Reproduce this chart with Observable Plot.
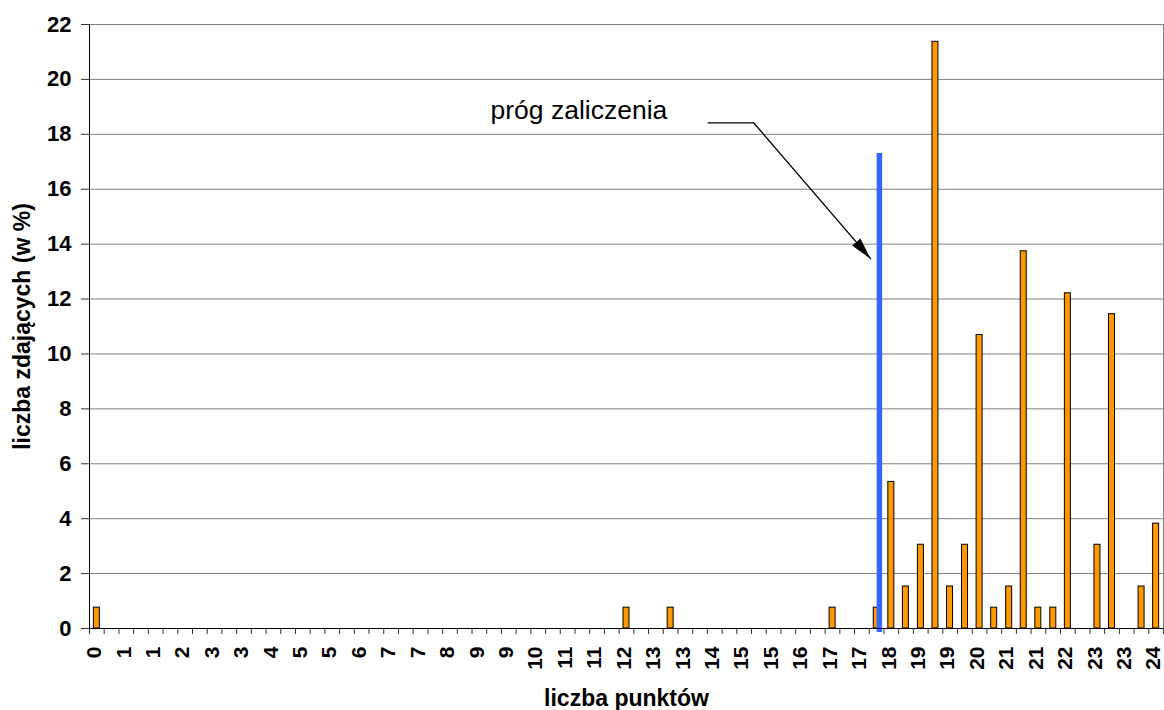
<!DOCTYPE html>
<html><head><meta charset="utf-8">
<script src="https://cdn.jsdelivr.net/npm/d3@7"></script>
<script src="https://cdn.jsdelivr.net/npm/@observablehq/plot@0.6"></script>
<style>
html,body{margin:0;padding:0;background:#fff;}
#chart svg{display:block;font-family:"Liberation Sans",Arial,sans-serif;color:#000;}
</style></head><body><div id="chart"></div>
<script>
// liczba punktów (categories in steps of 1/3 point)
const points  = [0, 12, 13, 16.67, 17.67, 18, 18.33, 18.67, 19, 19.33, 19.67, 20, 20.33, 20.67, 21, 21.33, 21.67, 22, 22.67, 23, 23.67, 24];
// liczba zdających (w %)
const percent = [0.76, 0.76, 0.76, 0.76, 0.76, 5.34, 1.53, 3.05, 21.37, 1.53, 3.05, 10.69, 0.76, 1.53, 13.74, 0.76, 0.76, 12.21, 3.05, 11.45, 1.53, 3.82];
const yTicks = [0, 2, 4, 6, 8, 10, 12, 14, 16, 18, 20, 22];
const xTickLabels = ["0","1","1","2","3","3","4","5","5","6","7","7","8","9","9","10","11","11","12","13","13","14","15","15","16","17","17","18","19","19","20","21","21","22","23","23","24"];
const xTitle = "liczba punktów";
const yTitle = "liczba zdających (w %)";
// próg zaliczenia (threshold line) and annotation
const threshold = 17.73;
const thresholdBottom = -0.15;
const thresholdTop = 17.3;
const annotationText = "próg zaliczenia";
const annotationX = 8.92;
const annotationY = 18.85;
const arrowX = [13.85, 14.88, 17.53];
const arrowY = [18.42, 18.42, 13.47];

const data = points.map((p, i) => ({p, v: percent[i]}));
const labelPos = xTickLabels.map((_, i) => i * 2 / 3);
const boundaries = d3.range(74).map(k => (k - 0.5) / 3);
const barHalf = 0.068;
const arrowData = arrowX.map((x, i) => ({x, y: arrowY[i]}));

function arrowHead(color, context) {
  const ns = "http://www.w3.org/2000/svg";
  const m = document.createElementNS(ns, "marker");
  m.setAttribute("viewBox", "-22 -6 22 12");
  m.setAttribute("markerWidth", 22);
  m.setAttribute("markerHeight", 12);
  m.setAttribute("refX", 0);
  m.setAttribute("refY", 0);
  m.setAttribute("orient", "auto");
  m.setAttribute("markerUnits", "userSpaceOnUse");
  const p = document.createElementNS(ns, "path");
  p.setAttribute("d", "M-22,-5.5L0,0L-22,5.5Z");
  p.setAttribute("fill", "#000");
  p.setAttribute("stroke", "none");
  m.appendChild(p);
  return m;
}

const chart = Plot.plot({
  width: 1164, height: 710,
  marginTop: 24, marginRight: 1, marginBottom: 82, marginLeft: 89,
  x: {type: "linear", domain: [-1/6, 24 + 1/6]},
  y: {domain: [0, 22]},
  marks: [
    Plot.gridY(yTicks, {stroke: "#808080", strokeOpacity: 1}),
    Plot.frame({stroke: "#808080"}),
    Plot.rectY(data, {x1: d => d.p - barHalf, x2: d => d.p + barHalf, y1: 0, y2: "v", fill: "#FF9900", stroke: "#000", strokeWidth: 1}),
    Plot.ruleX([threshold], {y1: thresholdBottom, y2: thresholdTop, stroke: "#3366FF", strokeWidth: 5.5}),
    Plot.line(arrowData, {x: "x", y: "y", stroke: "#000", strokeWidth: 1.3, markerEnd: arrowHead}),
    Plot.text([annotationText], {x: annotationX, y: annotationY, textAnchor: "start", fontSize: 26.5, fill: "#000"}),
    Plot.ruleY([0], {stroke: "#000"}),
    Plot.ruleX([-1/6], {stroke: "#000"}),
    Plot.axisY(yTicks, {tickSize: 8, tickPadding: 10, fontSize: 22, fontWeight: "bold", label: null, stroke: "#333"}),
    Plot.axisX(boundaries, {tickSize: 6, text: null, label: null, stroke: "#333"}),
    Plot.axisX(labelPos, {tickSize: 0, tickPadding: 18, tickRotate: -90, dx: -2.5, tickFormat: d => xTickLabels[Math.round(d * 1.5)], fontSize: 21, fontWeight: "bold", label: null}),
    Plot.text([xTitle], {frameAnchor: "bottom", dy: 77, lineAnchor: "bottom", fontSize: 23, fontWeight: "bold", fill: "#000"}),
    Plot.text([yTitle], {frameAnchor: "left", dx: -59.5, rotate: -90, textAnchor: "middle", lineAnchor: "bottom", fontSize: 23, fontWeight: "bold", fill: "#000"})
  ]
});
document.getElementById("chart").appendChild(chart);
</script>
</body></html>
